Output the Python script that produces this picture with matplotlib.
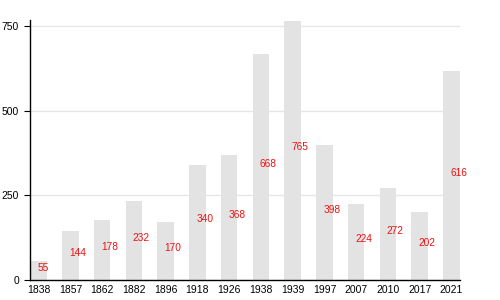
import matplotlib
matplotlib.use("Agg")
import matplotlib.pyplot as plt

years = ["1838", "1857", "1862", "1882", "1896", "1918", "1926", "1938",
         "1939", "1997", "2007", "2010", "2017", "2021"]
values = [55, 144, 178, 232, 170, 340, 368, 668, 765, 398, 224, 272, 202, 616]
yticks = [0, 250, 500, 750]

plt.rcParams['font.family'] = ['Liberation Sans', 'DejaVu Sans']
fig = plt.figure(figsize=(5, 3), dpi=100)
ax = fig.add_axes([0.06, 0.0667, 0.86, 0.8667])

x = list(range(len(years)))
ax.bar(x, values, width=0.52, color='#e3e3e3', zorder=2)
for xi, v in zip(x, values):
    ax.annotate(str(v), (xi, v / 2), xytext=(-1, 3), textcoords='offset pixels',
                ha='left', va='center', color='#ee1111', fontsize=7.3, zorder=3)

ax.set_xlim(-0.27, len(years) - 1 + 0.27)
ax.set_ylim(0, 768)
ax.set_xticks(x)
ax.set_xticklabels(years)
ax.set_yticks(yticks)
ax.set_yticklabels([str(t) for t in yticks])
ax.tick_params(axis='x', length=0, pad=3.5, labelsize=7.5)
ax.tick_params(axis='y', length=4, width=0.8, pad=4, labelsize=7.5)
ax.grid(axis='y', color='#e6e6e6', linewidth=1, zorder=0)
ax.set_axisbelow(True)
for s in ['top', 'right']:
    ax.spines[s].set_visible(False)
ax.spines['left'].set_linewidth(1)
ax.spines['bottom'].set_linewidth(1)

fig.savefig("out.png", dpi=100)
